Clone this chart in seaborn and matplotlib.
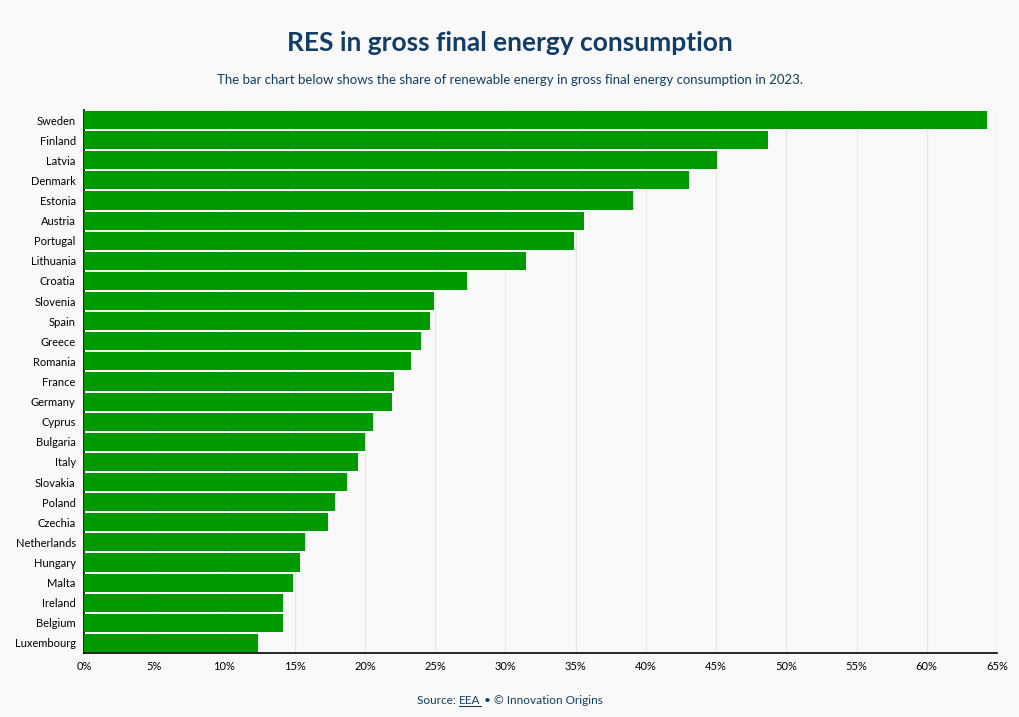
import matplotlib
matplotlib.use("Agg")
import matplotlib.pyplot as plt
import seaborn as sns
import pandas as pd
from matplotlib.ticker import PercentFormatter

countries = [
    "Sweden", "Finland", "Latvia", "Denmark", "Estonia", "Austria", "Portugal",
    "Lithuania", "Croatia", "Slovenia", "Spain", "Greece", "Romania", "France",
    "Germany", "Cyprus", "Bulgaria", "Italy", "Slovakia", "Poland", "Czechia",
    "Netherlands", "Hungary", "Malta", "Ireland", "Belgium", "Luxembourg",
]
res_share = [
    64.3, 48.7, 45.1, 43.1, 39.1, 35.6, 34.9,
    31.5, 27.3, 24.9, 24.6, 24.0, 23.3, 22.1,
    21.9, 20.6, 20.0, 19.5, 18.7, 17.9, 17.4,
    15.7, 15.4, 14.9, 14.2, 14.2, 12.4,
]
x_ticks = list(range(0, 70, 5))

NAVY = "#123d68"
BG = "#f9f9f9"

sns.set_style("white")
plt.rcParams["font.family"] = ["Lato", "DejaVu Sans"]

df = pd.DataFrame({"country": countries, "share": res_share})

fig = plt.figure(figsize=(10.2, 7.17), dpi=100, facecolor=BG)
ax = fig.add_axes([0.0824, 0.0893, 0.895, 0.7573], facecolor=BG)

sns.barplot(data=df, y="country", x="share", color="#009900", width=0.9,
            saturation=1, edgecolor="none", ax=ax, zorder=3)

ax.set_xlim(0, 65)
ax.set_ylim(len(countries) - 0.5, -0.5)
ax.set_xticks(x_ticks)
ax.xaxis.set_major_formatter(PercentFormatter(decimals=0))
ax.grid(axis="x", color="#e6e6e6", linewidth=0.8, zorder=0)
ax.set_xlabel("")
ax.set_ylabel("")
for s in ["top", "right"]:
    ax.spines[s].set_visible(False)
for s in ["left", "bottom"]:
    ax.spines[s].set_color("black")
    ax.spines[s].set_linewidth(1.2)
ax.tick_params(axis="both", labelsize=8, colors="#333333", length=4, width=1,
               labelcolor="black", pad=2)

fig.text(0.5, 0.94, "RES in gross final energy consumption", ha="center",
         va="center", fontsize=19, fontweight="bold", color=NAVY)
fig.text(0.5, 0.888, "The bar chart below shows the share of renewable energy in gross final energy consumption in 2023.",
         ha="center", va="center", fontsize=9.5, color=NAVY)

# source line with underlined "EEA"
fig.canvas.draw()
r = fig.canvas.get_renderer()
parts = ["Source: ", "EEA", " \u2022 \u00a9 Innovation Origins"]
tmp = [fig.text(0, 0, p, fontsize=8.5) for p in parts]
widths = [t.get_window_extent(r).width for t in tmp]
for t in tmp:
    t.remove()
total = sum(widths)
x0 = fig.bbox.width / 2 - total / 2
y_src = 1 - 700 / 717
xpos = x0
for p, w in zip(parts, widths):
    fig.text(xpos / fig.bbox.width, y_src, p, fontsize=8.5, color=NAVY,
             ha="left", va="center")
    if p == "EEA":
        fig.add_artist(plt.Line2D([xpos / fig.bbox.width, (xpos + w) / fig.bbox.width],
                                  [y_src - 0.009, y_src - 0.009],
                                  color=NAVY, linewidth=0.8, transform=fig.transFigure))
    xpos += w

fig.savefig("out.png", dpi=100, facecolor=BG)
